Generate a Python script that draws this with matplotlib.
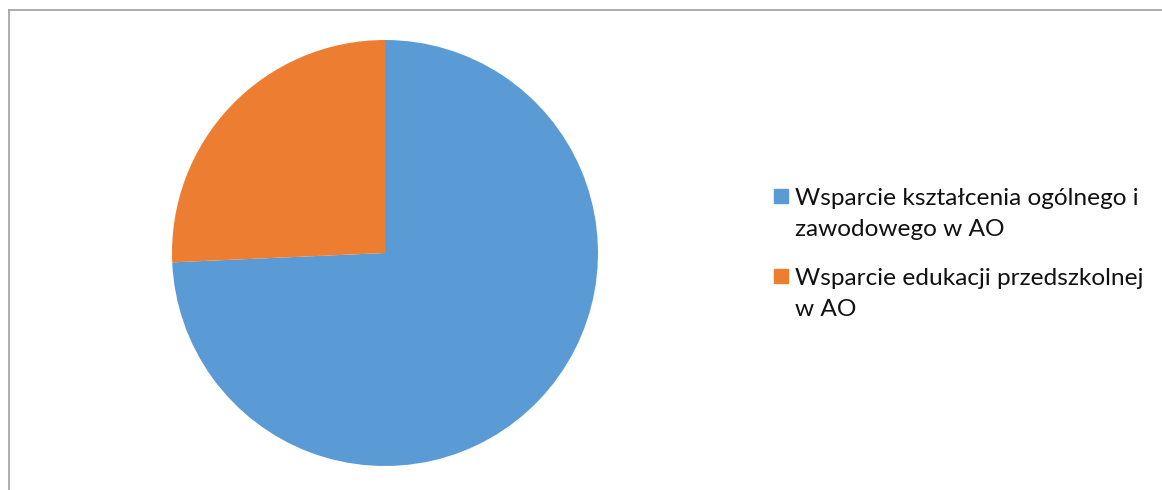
import matplotlib.pyplot as plt
from matplotlib.lines import Line2D
from matplotlib.patches import Rectangle

## Data ##
labels = ['Wsparcie kształcenia ogólnego i\nzawodowego w AO',
          'Wsparcie edukacji przedszkolnej\nw AO']
values = [74.3, 25.7]
colors = ['#5B9BD5', '#ED7D31']

W, H = 1162, 490
fig = plt.figure(figsize=(W / 100, H / 100), dpi=100)

# pie axes, center (385,253) radius 213 in pixels
cx, cy, r = 385, 253, 213
ax = fig.add_axes([(cx - r) / W, (H - cy - r) / H, 2 * r / W, 2 * r / H])
ax.pie(values, colors=colors, startangle=90, counterclock=False,
       radius=1.0, wedgeprops={'linewidth': 0})
ax.set_xlim(-1, 1)
ax.set_ylim(-1, 1)
ax.set_aspect('equal')
ax.axis('off')

# frame (left + top only)
fig.add_artist(Line2D([8.5 / W, 8.5 / W], [0, 1 - 10.5 / H], color='#A0A0A0', lw=1.2))
fig.add_artist(Line2D([8.5 / W, 1], [1 - 10.5 / H, 1 - 10.5 / H], color='#A0A0A0', lw=1.2))

# legend drawn by hand so the marker sits on the first line
baselines = [(205, 236), (285, 316)]
for lab, col, (b1, b2) in zip(labels, colors, baselines):
    fig.add_artist(Rectangle((774 / W, 1 - (b1 - 2) / H), 14 / W, 14 / H,
                             color=col, transform=fig.transFigure))
    for line, b in zip(lab.split('\n'), (b1, b2)):
        fig.text(795 / W, 1 - b / H, line, fontsize=17.6, family='Lato',
                 va='baseline', ha='left', color='#111111')

fig.savefig('out.png', dpi=100)
